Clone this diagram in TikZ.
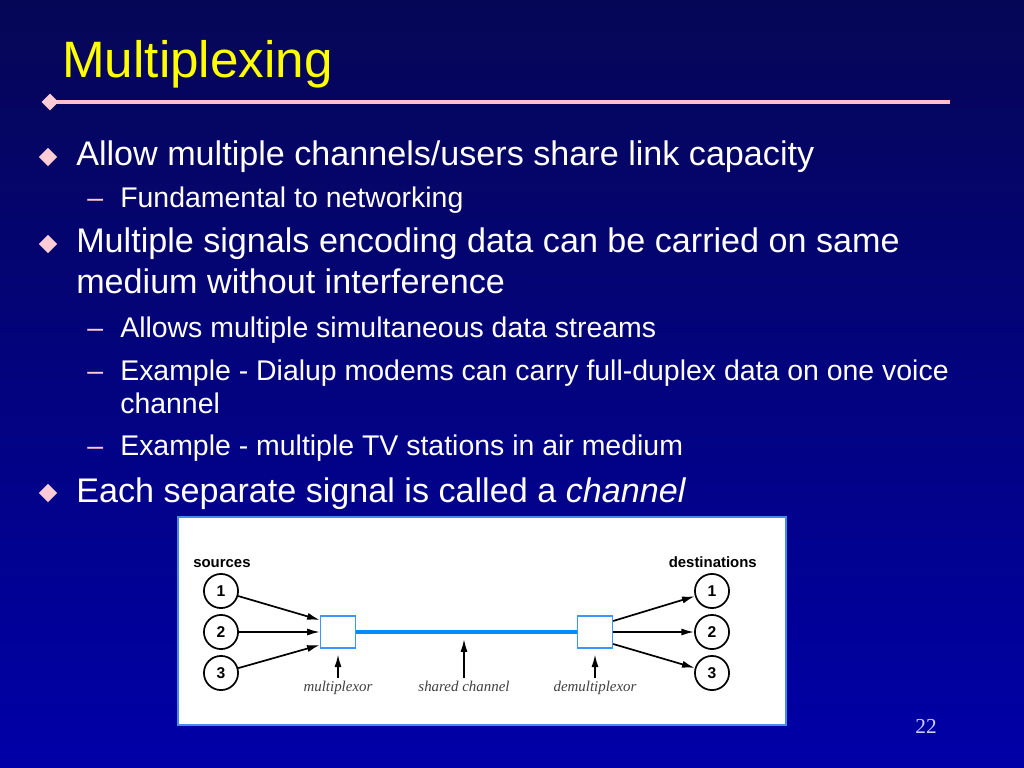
\documentclass[tikz,border=0pt]{standalone}
\usepackage{fontspec}
\setmainfont{Liberation Sans}
\newfontfamily\labelfont{Liberation Serif}
\usepackage{tikz}
\usetikzlibrary{arrows.meta,calc,positioning,shapes.geometric}
\usepackage{xcolor}
\definecolor{slidetop}{RGB}{6,6,86}
\definecolor{slidebot}{RGB}{0,0,168}
\definecolor{rulepink}{RGB}{255,190,205}
\definecolor{dotpink}{RGB}{255,204,214}
\definecolor{titleyellow}{RGB}{255,255,0}
\definecolor{boxblue}{RGB}{60,150,255}
\definecolor{chanblue}{RGB}{0,140,255}
\definecolor{panelblue}{RGB}{70,140,230}
\definecolor{pagenum}{RGB}{205,205,255}

\begin{document}
\begin{tikzpicture}[x=0.703125pt,y=-0.703125pt,
  title/.style={anchor=base west,inner sep=0,text=titleyellow,font=\fontsize{36}{40}\selectfont},
  bigtxt/.style={anchor=base west,inner sep=0,text=white,font=\fontsize{24}{28}\selectfont},
  subtxt/.style={anchor=base west,inner sep=0,text=white,font=\fontsize{20}{24}\selectfont},
  dashmark/.style={anchor=base west,inner sep=0,text=dotpink,font=\fontsize{20}{24}\selectfont},
  diam/.style={diamond,fill=dotpink,inner sep=0,minimum size=13pt},
  circ/.style={circle,draw,line width=1.2pt,fill=white,minimum size=24pt,inner sep=0,font=\bfseries\fontsize{11}{13}\selectfont},
  muxbox/.style={draw=boxblue,line width=1pt,fill=white,minimum width=24.5pt,minimum height=22.5pt,inner sep=0},
  feed/.style={-{Latex[length=9pt,width=5pt]},line width=1.2pt},
  lbl/.style={anchor=base,inner sep=0,text=black!75,font=\labelfont\itshape\fontsize{10.5}{12}\selectfont},
  head/.style={anchor=base,inner sep=0,font=\bfseries\fontsize{10.5}{12}\selectfont}]
  \useasboundingbox (0,0) rectangle (1024,768);
  \shade[top color=slidetop,bottom color=slidebot] (0,0) rectangle (1024,768);
  % Title and rule
  \node[title] (T) at (62,78) {Multiplexing};
  \coordinate (R1) at (50,102);
  \coordinate (R2) at (950,102);
  \draw[rulepink,line width=3.5pt] (R1)--(R2);
  \node[diam,minimum size=12pt] (RD) at (R1) {};
  % Bullets
  \node[diam] (B1) at (48,157) {};
  \node[bigtxt] (L1) at (76,166) {Allow multiple channels/users share link capacity};
  \node[dashmark] (H1) at (87,208) {–};
  \node[subtxt] (S1) at (120,208) {Fundamental to networking};
  \node[diam] (B2) at (48,244) {};
  \node[bigtxt] (L2) at (76,253) {Multiple signals encoding data can be carried on same};
  \node[bigtxt] (L3) at (76,293) {medium without interference};
  \node[dashmark] (H2) at (87,338) {–};
  \node[subtxt] (S2) at (120,338) {Allows multiple simultaneous data streams};
  \node[dashmark] (H3) at (87,380) {–};
  \node[subtxt] (S3) at (120,380) {Example - Dialup modems can carry full-duplex data on one voice};
  \node[subtxt] (S4) at (120,413) {channel};
  \node[dashmark] (H4) at (87,455) {–};
  \node[subtxt] (S5) at (120,455) {Example - multiple TV stations in air medium};
  \node[diam] (B3) at (48,493) {};
  \node[bigtxt] (L4) at (76,502) {Each separate signal is called a \textit{channel}};
  % Diagram panel
  \draw[panelblue,fill=white,line width=0.8pt] (178,517) rectangle (786,725);
  \node[head,anchor=base west] (SRC) at (193,567) {sources};
  \node[head,anchor=base east] (DST) at (757,567) {destinations};
  \node[circ] (I1) at (221,591) {1};
  \node[circ] (I2) at (221,632) {2};
  \node[circ] (I3) at (221,673) {3};
  \node[circ] (O1) at (712,591) {1};
  \node[circ] (O2) at (712,632) {2};
  \node[circ] (O3) at (712,673) {3};
  \node[muxbox] (MX) at (338,632) {};
  \node[muxbox] (DX) at (595,632) {};
  \draw[chanblue,line width=2.8pt] (MX)--(DX);
  \draw[feed] (I1)--($(MX.west)+(0,-12)$);
  \draw[feed] (I2)--(MX.west);
  \draw[feed] (I3)--($(MX.west)+(0,13)$);
  \draw[feed] ($(DX.east)+(0,-11)$)--(O1);
  \draw[feed] (DX.east)--(O2);
  \draw[feed] ($(DX.east)+(0,12)$)--(O3);
  % Labels with pointers
  \node[lbl] (LM) at (338,691) {multiplexor};
  \node[lbl] (LS) at (464,691) {shared channel};
  \node[lbl] (LD) at (595,691) {demultiplexor};
  \coordinate (SC) at (464,632);
  \draw[feed,shorten >=4pt,shorten <=2pt] (LM.north)--(MX.south);
  \draw[feed,shorten >=5pt,shorten <=2pt] (LS.north)--(SC);
  \draw[feed,shorten >=4pt,shorten <=2pt] (LD.north)--(DX.south);
  % Page number
  \node[anchor=base,inner sep=0,text=pagenum,font=\labelfont\fontsize{15}{18}\selectfont] (N) at (926,733) {22};
\end{tikzpicture}
\end{document}
